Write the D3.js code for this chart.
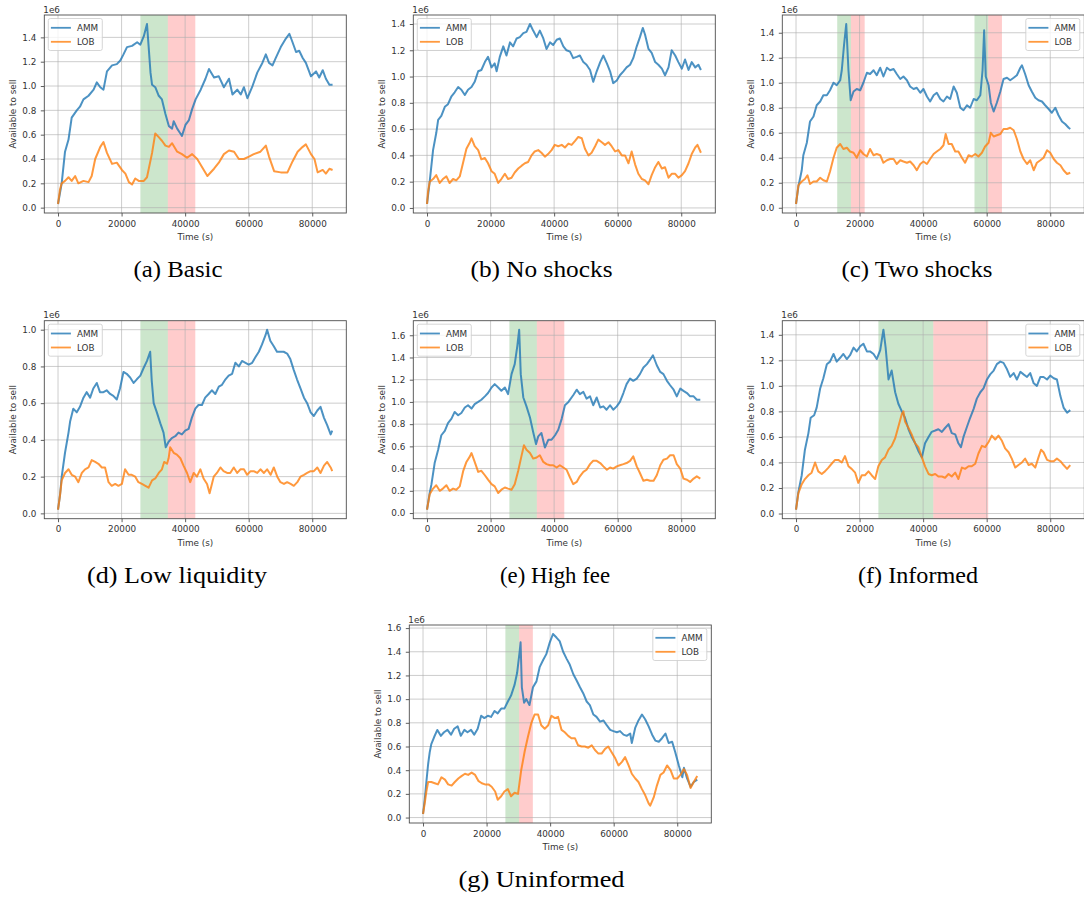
<!DOCTYPE html>
<html>
<head>
<meta charset="utf-8">
<script src="https://cdn.jsdelivr.net/npm/d3@7"></script>
<style>
  html, body { margin: 0; padding: 0; background: #fff; }
  svg { display: block; }
</style>
</head>
<body>
<svg id="fig" width="1084" height="899"></svg>
<script>
// ---- Data: [time (s), available to sell (x1e6)] ----
const basicAMM = [[0,0.03],[1150,0.20],[2200,0.46],[3300,0.56],[4300,0.74],[5900,0.80],[6900,0.83],[8000,0.89],[9600,0.92],[11200,0.97],[12200,1.03],[13300,0.99],[14300,0.97],[15400,1.12],[17000,1.17],[18500,1.18],[19600,1.21],[20600,1.26],[21700,1.32],[23300,1.33],[24900,1.36],[25900,1.34],[27000,1.41],[28000,1.51],[28500,1.33],[29100,1.11],[29600,1.01],[30600,0.99],[31700,0.92],[32700,0.89],[33800,0.77],[34900,0.67],[35900,0.65],[36400,0.71],[37500,0.65],[38500,0.61],[39000,0.59],[40100,0.68],[41200,0.72],[42200,0.81],[43300,0.89],[44900,0.97],[46400,1.06],[47500,1.14],[49100,1.07],[50600,1.08],[52200,0.99],[53800,1.06],[54900,0.93],[56400,0.97],[57500,0.93],[58500,0.99],[59600,0.90],[61200,1.00],[62700,1.11],[64300,1.19],[65400,1.26],[66400,1.19],[67500,1.17],[68500,1.23],[70100,1.32],[71700,1.39],[72800,1.43],[73800,1.36],[74900,1.28],[75900,1.29],[77000,1.23],[78000,1.19],[79600,1.08],[81200,1.12],[82200,1.07],[83300,1.13],[84300,1.06],[85400,1.01],[86400,1.01]];
const basicLOB = [[0,0.03],[630,0.15],[1150,0.20],[2200,0.22],[3300,0.25],[4300,0.22],[5400,0.26],[6400,0.20],[8000,0.22],[9600,0.21],[10600,0.26],[11700,0.40],[13300,0.50],[14300,0.54],[15400,0.45],[17000,0.36],[18500,0.37],[20100,0.31],[21200,0.28],[22300,0.21],[23300,0.19],[24300,0.24],[25400,0.22],[27000,0.22],[28000,0.25],[29600,0.45],[30600,0.61],[31700,0.58],[32700,0.55],[33800,0.51],[34900,0.50],[35900,0.53],[37500,0.46],[39000,0.44],[40600,0.41],[42200,0.44],[43800,0.40],[45400,0.33],[47000,0.26],[49100,0.32],[50600,0.37],[52200,0.44],[53800,0.47],[55400,0.46],[56900,0.40],[58500,0.40],[60100,0.42],[61600,0.44],[63700,0.46],[65400,0.51],[66400,0.42],[68000,0.30],[70100,0.29],[72200,0.29],[73800,0.38],[75400,0.46],[77000,0.50],[78000,0.52],[79600,0.44],[80700,0.40],[81700,0.29],[83300,0.31],[84300,0.28],[85400,0.32],[86400,0.31]];

const noShocksAMM = [[0,0.03],[840,0.20],[1900,0.44],[2900,0.57],[3500,0.67],[4500,0.70],[5600,0.77],[6600,0.79],[7700,0.85],[8700,0.88],[9800,0.92],[10800,0.90],[11900,0.86],[12900,0.90],[14000,0.92],[15000,0.96],[16100,1.04],[17100,1.05],[18200,1.11],[19200,1.15],[20300,1.07],[21300,1.10],[21900,1.04],[22900,1.15],[24000,1.23],[25000,1.16],[26100,1.26],[27100,1.23],[28200,1.29],[29200,1.30],[30300,1.33],[31300,1.34],[32400,1.40],[33400,1.35],[34500,1.30],[35500,1.35],[36600,1.29],[37600,1.21],[38700,1.26],[39700,1.24],[40800,1.28],[41800,1.29],[42900,1.23],[43900,1.20],[45000,1.19],[46000,1.14],[47100,1.15],[48100,1.16],[49200,1.11],[50200,1.09],[51300,1.05],[52300,0.96],[53400,1.04],[54500,1.11],[55500,1.16],[56600,1.10],[57600,1.04],[58600,0.95],[59700,0.97],[60700,1.01],[61800,1.04],[62800,1.07],[63900,1.09],[64900,1.14],[66000,1.23],[67000,1.30],[67900,1.37],[68600,1.32],[69700,1.21],[70700,1.18],[71800,1.11],[72800,1.09],[73900,1.06],[74900,1.01],[76000,1.07],[77000,1.20],[78100,1.16],[79100,1.11],[80200,1.06],[81200,1.13],[82300,1.05],[83300,1.11],[84400,1.07],[85400,1.09],[86200,1.05]];
const noShocksLOB = [[0,0.03],[300,0.12],[840,0.20],[1900,0.22],[2900,0.25],[4000,0.19],[5000,0.22],[6100,0.24],[7100,0.19],[8200,0.22],[9200,0.21],[10300,0.24],[11400,0.35],[12400,0.45],[13500,0.50],[14000,0.53],[15000,0.47],[16100,0.44],[17100,0.37],[18200,0.38],[19200,0.34],[20300,0.28],[21300,0.26],[22400,0.19],[23400,0.22],[24500,0.26],[25500,0.22],[26600,0.23],[27600,0.27],[28700,0.30],[29700,0.32],[30800,0.34],[31800,0.35],[32900,0.40],[33900,0.43],[35000,0.44],[36000,0.42],[37100,0.39],[38100,0.41],[39200,0.44],[40200,0.48],[41300,0.47],[42400,0.48],[43400,0.46],[44500,0.49],[45500,0.48],[46600,0.51],[47600,0.54],[48700,0.53],[49700,0.45],[50800,0.40],[51800,0.42],[52900,0.47],[53900,0.52],[55000,0.50],[56000,0.48],[57100,0.50],[58100,0.47],[59200,0.43],[60200,0.44],[61300,0.40],[62300,0.40],[63400,0.34],[64400,0.43],[65500,0.33],[66500,0.26],[67600,0.22],[68600,0.21],[69700,0.18],[70700,0.25],[71800,0.31],[72800,0.35],[73900,0.30],[74900,0.31],[76000,0.23],[77000,0.26],[78100,0.26],[79100,0.23],[80200,0.25],[81200,0.28],[82300,0.34],[83300,0.41],[84400,0.46],[85100,0.48],[86200,0.42]];

const twoShocksAMM = [[0,0.03],[740,0.17],[1800,0.30],[2300,0.42],[3400,0.52],[4400,0.69],[5500,0.73],[6500,0.82],[7600,0.85],[8600,0.90],[9700,0.90],[10700,0.94],[11800,1.00],[12800,0.98],[13900,1.02],[14400,1.10],[15100,1.30],[15800,1.47],[16500,1.10],[17200,0.86],[18100,0.93],[19100,0.95],[20200,0.94],[21200,1.00],[22300,1.08],[23300,1.07],[24400,1.10],[25400,1.06],[26500,1.12],[27500,1.05],[28600,1.12],[29600,1.10],[30700,1.11],[31700,1.07],[32800,1.03],[33800,1.05],[34900,1.02],[35900,0.97],[37000,0.95],[38000,0.96],[39100,0.92],[40100,0.95],[41200,0.89],[42200,0.85],[43300,0.90],[44300,0.92],[45400,0.87],[46400,0.85],[47500,0.89],[48500,0.87],[49600,0.97],[50600,0.92],[51700,0.80],[52700,0.78],[53800,0.82],[54800,0.80],[55900,0.87],[56900,0.86],[58000,0.90],[58700,1.10],[59200,1.42],[59700,1.05],[60600,0.98],[61300,0.84],[62200,0.77],[63200,0.84],[64300,0.93],[65300,1.03],[66400,1.04],[67400,1.02],[68500,1.04],[69500,1.06],[70600,1.12],[71100,1.14],[72100,1.07],[73200,0.98],[74200,0.93],[75300,0.88],[76300,0.86],[77400,0.85],[78400,0.82],[79500,0.79],[80500,0.76],[81600,0.80],[82600,0.74],[83700,0.69],[84700,0.67],[85800,0.64],[86300,0.63]];
const twoShocksLOB = [[0,0.03],[740,0.18],[1800,0.21],[2800,0.23],[3600,0.26],[4400,0.19],[5500,0.21],[6500,0.21],[7600,0.24],[8600,0.22],[9700,0.21],[10700,0.29],[11800,0.40],[12800,0.48],[13900,0.51],[14900,0.47],[16000,0.48],[17000,0.45],[18100,0.44],[19100,0.40],[20200,0.46],[21200,0.43],[22300,0.41],[23300,0.47],[24400,0.42],[25400,0.43],[26500,0.42],[27500,0.36],[28600,0.38],[29600,0.39],[30700,0.39],[31700,0.35],[32800,0.38],[33800,0.37],[34900,0.36],[35900,0.37],[37000,0.34],[38000,0.30],[39100,0.35],[40100,0.37],[41200,0.35],[42200,0.39],[43300,0.43],[44300,0.45],[45400,0.47],[46400,0.50],[47100,0.59],[48000,0.51],[49000,0.51],[50100,0.45],[51100,0.45],[52200,0.40],[53200,0.36],[54300,0.42],[55300,0.41],[56400,0.43],[57400,0.41],[58500,0.44],[59500,0.49],[60600,0.52],[61300,0.60],[62200,0.57],[63200,0.58],[64300,0.59],[65300,0.63],[66400,0.63],[67400,0.64],[68500,0.62],[69500,0.55],[70600,0.45],[71600,0.39],[72700,0.35],[73700,0.38],[74800,0.30],[75800,0.36],[76900,0.38],[77900,0.40],[79000,0.46],[80000,0.44],[81100,0.39],[82100,0.36],[83200,0.34],[84200,0.30],[85300,0.27],[86300,0.28]];

const lowLiqAMM = [[0,0.02],[630,0.10],[1160,0.20],[2200,0.33],[3300,0.44],[3800,0.50],[4800,0.57],[5900,0.55],[6900,0.58],[8000,0.63],[9000,0.66],[10100,0.63],[11100,0.68],[12200,0.71],[13200,0.66],[14300,0.66],[15300,0.67],[16400,0.65],[17400,0.64],[18500,0.62],[19500,0.68],[20600,0.77],[21600,0.76],[22700,0.74],[23800,0.71],[24800,0.73],[25900,0.75],[26900,0.79],[28000,0.83],[29000,0.88],[29500,0.72],[30100,0.60],[31100,0.55],[32200,0.49],[33200,0.44],[33900,0.36],[34800,0.39],[35800,0.41],[36900,0.42],[37900,0.44],[39000,0.43],[40000,0.45],[41100,0.46],[42100,0.52],[43200,0.57],[44200,0.59],[45300,0.59],[46300,0.63],[47400,0.65],[48400,0.67],[49500,0.65],[50600,0.69],[51600,0.70],[52700,0.73],[53700,0.75],[54800,0.76],[55800,0.82],[56900,0.80],[57900,0.83],[59000,0.82],[60000,0.81],[61100,0.82],[62100,0.85],[63200,0.88],[64200,0.92],[65300,0.97],[65800,1.00],[66800,0.94],[67900,0.91],[68900,0.88],[70000,0.88],[71000,0.88],[72100,0.87],[73100,0.84],[74200,0.78],[75200,0.73],[76300,0.68],[77400,0.63],[78400,0.60],[79500,0.55],[80500,0.53],[81600,0.56],[82600,0.58],[83700,0.52],[84700,0.48],[85800,0.43],[86300,0.45]];
const lowLiqLOB = [[0,0.02],[630,0.10],[1160,0.18],[2200,0.22],[3300,0.24],[4300,0.21],[5400,0.20],[6400,0.17],[7500,0.22],[8500,0.24],[9600,0.25],[10600,0.29],[11700,0.28],[12700,0.27],[13800,0.25],[14800,0.25],[15900,0.17],[16900,0.15],[18000,0.16],[19000,0.15],[20100,0.16],[21100,0.24],[22200,0.21],[23200,0.21],[24300,0.20],[25300,0.17],[26400,0.16],[27500,0.15],[28500,0.14],[29600,0.18],[30600,0.19],[31700,0.22],[32700,0.24],[33400,0.28],[34300,0.27],[34800,0.30],[35300,0.36],[36400,0.33],[37400,0.32],[38500,0.30],[39500,0.26],[40600,0.22],[41600,0.17],[42700,0.22],[43700,0.20],[44800,0.24],[45800,0.19],[46900,0.16],[47700,0.11],[49000,0.20],[50000,0.22],[51100,0.25],[52100,0.23],[53200,0.22],[54200,0.22],[55300,0.25],[56400,0.22],[57400,0.24],[58500,0.24],[59500,0.21],[60600,0.23],[61600,0.23],[62700,0.22],[63700,0.24],[64800,0.22],[65800,0.24],[66900,0.21],[67900,0.25],[69000,0.20],[70000,0.17],[71100,0.16],[72100,0.17],[73200,0.16],[74200,0.15],[75300,0.17],[76300,0.20],[77400,0.21],[78400,0.22],[79500,0.23],[80500,0.23],[81600,0.25],[82600,0.22],[83700,0.26],[84700,0.28],[85800,0.25],[86300,0.23]];

const highFeeAMM = [[0,0.03],[840,0.18],[1400,0.26],[2400,0.45],[3500,0.57],[4500,0.70],[5600,0.74],[6600,0.81],[7700,0.85],[8700,0.91],[9800,0.88],[10800,0.90],[11900,0.95],[12900,0.97],[14000,0.94],[15000,0.98],[16100,1.00],[17100,1.02],[18200,1.05],[19200,1.08],[20300,1.13],[21300,1.16],[22400,1.13],[23400,1.10],[24500,1.13],[25500,1.07],[26600,1.25],[27600,1.34],[28400,1.50],[29000,1.65],[29500,1.25],[30300,1.04],[31300,0.96],[32400,0.86],[33400,0.73],[34300,0.62],[35000,0.69],[36000,0.72],[37100,0.59],[38200,0.66],[39200,0.66],[40300,0.70],[41300,0.75],[42400,0.85],[43400,0.97],[44500,1.00],[46000,1.06],[47100,1.11],[48100,1.07],[49200,1.09],[50200,1.03],[51300,1.05],[52300,0.97],[53400,1.04],[54500,0.95],[55500,0.96],[56500,0.93],[57600,0.97],[58600,0.93],[59700,0.96],[60700,1.00],[61800,1.08],[62800,1.16],[63900,1.21],[64900,1.19],[66000,1.21],[67000,1.25],[68100,1.31],[69200,1.34],[70200,1.38],[71100,1.42],[72300,1.33],[73400,1.27],[74400,1.25],[75500,1.19],[76500,1.15],[77600,1.11],[78600,1.05],[79700,1.12],[80700,1.10],[81800,1.08],[82800,1.05],[83900,1.05],[84900,1.02],[86000,1.02]];
const highFeeLOB = [[0,0.03],[840,0.17],[1900,0.22],[2900,0.25],[4000,0.20],[5000,0.22],[6100,0.25],[7100,0.20],[8200,0.22],[9200,0.21],[10300,0.24],[11400,0.38],[12400,0.46],[13500,0.51],[14000,0.54],[15000,0.46],[16100,0.37],[17100,0.38],[18200,0.34],[19200,0.30],[20300,0.26],[21300,0.24],[22400,0.18],[23400,0.21],[24500,0.23],[25500,0.22],[26600,0.21],[27600,0.26],[28700,0.38],[29700,0.51],[30500,0.61],[31300,0.57],[32400,0.54],[33400,0.49],[34500,0.50],[35500,0.52],[36600,0.46],[37600,0.44],[38700,0.43],[39700,0.43],[40800,0.41],[41800,0.43],[42900,0.41],[43900,0.39],[45000,0.32],[46000,0.26],[47100,0.28],[48100,0.33],[49200,0.37],[50200,0.39],[51300,0.44],[52300,0.47],[53400,0.47],[54500,0.45],[55500,0.42],[56600,0.39],[57600,0.41],[58600,0.40],[59700,0.42],[60700,0.43],[61800,0.44],[62800,0.45],[63900,0.47],[64900,0.51],[66000,0.42],[67000,0.36],[68100,0.29],[69200,0.30],[70200,0.29],[71300,0.29],[72300,0.34],[73400,0.43],[74400,0.48],[75500,0.49],[76500,0.52],[77600,0.52],[78600,0.44],[79700,0.40],[80700,0.31],[81800,0.30],[82800,0.28],[83900,0.31],[84900,0.33],[86000,0.31]];

const informedAMM = [[0,0.03],[740,0.17],[1800,0.30],[2800,0.50],[3900,0.63],[4600,0.75],[5700,0.77],[6500,0.83],[7600,0.98],[8600,1.06],[9700,1.17],[10700,1.19],[11800,1.25],[12800,1.19],[13900,1.22],[14900,1.25],[16000,1.21],[17000,1.24],[18100,1.30],[19100,1.27],[20200,1.31],[21200,1.33],[22300,1.27],[23300,1.27],[24400,1.25],[25400,1.21],[26500,1.28],[27500,1.44],[28200,1.30],[29100,1.05],[30100,1.12],[31200,0.95],[32200,0.86],[33300,0.80],[34300,0.75],[35400,0.66],[36400,0.60],[37500,0.55],[38500,0.49],[39600,0.44],[40600,0.55],[41700,0.60],[42700,0.64],[43800,0.65],[44800,0.66],[45900,0.64],[46900,0.67],[48000,0.70],[49000,0.63],[50100,0.62],[51100,0.55],[51900,0.52],[52700,0.60],[53800,0.68],[54800,0.75],[55900,0.82],[56900,0.90],[58000,0.95],[59000,0.98],[60100,1.05],[61100,1.09],[62200,1.12],[63200,1.17],[64300,1.19],[65300,1.18],[66400,1.13],[67400,1.07],[68500,1.10],[69500,1.05],[70600,1.11],[71600,1.09],[72700,1.07],[73700,1.10],[74800,1.02],[75800,1.00],[76900,1.07],[77900,1.07],[79000,1.05],[80000,1.08],[81100,1.06],[82100,1.05],[83200,0.92],[84200,0.83],[85300,0.79],[86300,0.81]];
const informedLOB = [[0,0.03],[740,0.16],[1800,0.23],[2800,0.27],[3900,0.30],[4900,0.32],[6000,0.40],[7000,0.33],[8100,0.31],[9100,0.33],[10200,0.36],[11200,0.39],[12300,0.42],[13300,0.42],[14400,0.40],[15400,0.45],[16500,0.37],[17500,0.35],[18600,0.32],[19600,0.24],[20700,0.30],[21700,0.30],[22800,0.33],[23800,0.30],[24900,0.27],[25900,0.37],[27000,0.42],[28000,0.44],[29100,0.50],[30100,0.53],[31200,0.59],[32200,0.68],[33300,0.78],[33800,0.80],[34300,0.72],[35400,0.67],[36400,0.62],[37500,0.55],[38500,0.52],[39600,0.44],[40600,0.37],[41700,0.31],[42700,0.30],[43800,0.31],[44800,0.29],[45900,0.29],[46900,0.28],[48000,0.31],[49000,0.29],[50100,0.32],[51100,0.27],[52200,0.36],[53200,0.35],[54300,0.37],[55300,0.37],[56400,0.39],[57400,0.47],[58500,0.53],[59500,0.52],[60600,0.56],[61600,0.61],[62700,0.58],[63700,0.61],[64800,0.57],[65800,0.51],[66900,0.48],[67900,0.43],[69000,0.36],[70000,0.38],[71100,0.40],[72100,0.43],[73200,0.38],[74200,0.39],[75300,0.36],[76300,0.44],[77100,0.50],[77900,0.48],[79000,0.42],[80000,0.41],[81100,0.41],[82100,0.43],[83200,0.41],[84200,0.38],[85300,0.35],[86300,0.38]];

const uninformedAMM = [[0,0.03],[530,0.15],[1050,0.30],[1600,0.45],[2100,0.55],[2600,0.62],[3500,0.68],[4500,0.74],[5600,0.69],[6600,0.72],[7700,0.74],[8800,0.70],[9800,0.75],[10900,0.77],[11900,0.69],[13000,0.74],[14000,0.72],[15100,0.74],[16100,0.70],[17200,0.75],[18300,0.86],[19300,0.84],[20400,0.86],[21400,0.85],[22500,0.90],[23500,0.88],[24600,0.92],[25600,0.92],[26700,0.98],[27700,1.03],[28800,1.12],[29600,1.22],[30400,1.40],[30700,1.48],[31100,1.10],[31800,0.97],[32500,1.00],[33500,0.95],[34600,1.10],[35700,1.15],[36700,1.27],[37800,1.33],[38800,1.38],[39900,1.48],[40900,1.55],[42000,1.52],[43000,1.49],[44100,1.40],[45200,1.34],[46200,1.29],[47300,1.21],[48300,1.16],[49400,1.10],[50400,1.05],[51500,0.98],[52500,0.95],[53600,0.87],[54600,0.85],[55700,0.81],[56800,0.82],[57800,0.78],[58900,0.74],[59900,0.73],[61000,0.72],[62000,0.73],[63100,0.70],[64100,0.69],[65200,0.71],[65700,0.63],[66800,0.76],[67800,0.82],[68900,0.87],[69900,0.83],[71000,0.77],[72100,0.70],[73100,0.65],[74200,0.64],[75200,0.67],[76300,0.71],[77300,0.63],[78400,0.64],[79400,0.55],[80500,0.44],[81600,0.34],[82100,0.42],[83100,0.33],[84200,0.26],[85200,0.30],[86300,0.32]];
const uninformedLOB = [[0,0.03],[530,0.12],[1050,0.22],[1600,0.30],[2600,0.30],[3700,0.29],[4700,0.28],[5800,0.34],[6900,0.32],[7900,0.28],[9000,0.27],[10000,0.30],[11100,0.33],[12100,0.35],[13200,0.37],[14200,0.36],[15300,0.38],[16400,0.36],[17400,0.31],[18500,0.29],[19500,0.28],[20600,0.28],[21600,0.26],[22700,0.22],[23500,0.15],[24600,0.18],[25600,0.22],[26700,0.24],[27700,0.18],[28800,0.21],[29900,0.20],[30900,0.40],[32000,0.56],[33000,0.68],[34100,0.80],[35100,0.87],[36200,0.87],[37200,0.78],[38300,0.75],[39400,0.78],[40400,0.86],[41500,0.84],[42500,0.85],[43600,0.74],[44600,0.72],[45700,0.69],[46700,0.67],[47800,0.67],[48800,0.61],[49900,0.60],[50900,0.60],[52000,0.59],[53100,0.61],[54100,0.57],[55200,0.54],[56200,0.54],[57300,0.58],[58300,0.60],[59400,0.55],[60500,0.50],[61500,0.44],[62600,0.47],[63600,0.51],[64700,0.44],[65700,0.37],[66800,0.33],[67800,0.30],[68900,0.24],[69900,0.19],[71000,0.12],[71500,0.10],[72600,0.17],[73600,0.27],[74700,0.36],[75700,0.38],[76800,0.44],[77900,0.40],[78900,0.33],[80000,0.33],[81000,0.36],[82100,0.41],[83100,0.36],[84200,0.25],[85200,0.30],[86300,0.35]];

// Shock windows: [start, switch, end] in seconds (green span, then red span)
const basicShocks = [[25920, 34560, 43200]];
const noShocks = [];
const twoShocks = [[12960, 17280, 21600], [56160, 60480, 64800]];
const lowLiqShocks = [[25920, 34560, 43200]];
const highFeeShocks = [[25920, 34560, 43200]];
const informedShocks = [[25920, 43200, 60480]];
const uninformedShocks = [[25920, 30240, 34560]];

const captions = ["(a) Basic", "(b) No shocks", "(c) Two shocks", "(d) Low liquidity", "(e) High fee", "(f) Informed", "(g) Uninformed"];
const seriesNames = ["AMM", "LOB"];
const xTickValues = [0, 20000, 40000, 60000, 80000];
const xLabel = "Time (s)";
const yLabel = "Available to sell";
const offsetLabel = "1e6";

// ---- Layout ----
const W = 302, H = 198;
const panels = [
  { amm: basicAMM,      lob: basicLOB,      shocks: basicShocks,      x: 44.3,  y: 15,    legend: "left",  cx: 178,   cy: 277, cw: 89 },
  { amm: noShocksAMM,   lob: noShocksLOB,   shocks: noShocks,         x: 413.3, y: 15,    legend: "left",  cx: 541.5, cy: 277, cw: 142 },
  { amm: twoShocksAMM,  lob: twoShocksLOB,  shocks: twoShocks,        x: 782.3, y: 15,    legend: "right", cx: 917,   cy: 277, cw: 151 },
  { amm: lowLiqAMM,     lob: lowLiqLOB,     shocks: lowLiqShocks,     x: 44.3,  y: 320.7, legend: "left",  cx: 177,   cy: 583, cw: 180 },
  { amm: highFeeAMM,    lob: highFeeLOB,    shocks: highFeeShocks,    x: 413.3, y: 320.7, legend: "left",  cx: 555,   cy: 583, cw: 110 },
  { amm: informedAMM,   lob: informedLOB,   shocks: informedShocks,   x: 782.3, y: 320.7, legend: "right", cx: 918,   cy: 583, cw: 120 },
  { amm: uninformedAMM, lob: uninformedLOB, shocks: uninformedShocks, x: 409.3, y: 625,   legend: "right", cx: 541.5, cy: 887, cw: 166 }
];

const colors = ["#1f77b4", "#ff7f0e"];
const sans = "'DejaVu Sans', sans-serif";
const fs = 8.8;
const svg = d3.select("#fig");
const fmtY = d3.format(".1f");

panels.forEach((p, i) => {
  const g = svg.append("g").attr("transform", `translate(${p.x},${p.y})`);
  const xs = d3.scaleLinear().domain([-4320, 90720]).range([0, W]);
  const vals = p.amm.concat(p.lob).map(d => d[1]);
  const lo = d3.min(vals), hi = d3.max(vals), pad = (hi - lo) * 0.05;
  const ys = d3.scaleLinear().domain([lo - pad, hi + pad]).range([H, 0]);
  const yTickValues = d3.range(0, hi + pad, 0.2).map(v => Math.round(v * 10) / 10).filter(v => v <= hi + pad);

  // shock spans
  p.shocks.forEach(([a, b, c]) => {
    g.append("rect").attr("x", xs(a)).attr("y", 0).attr("width", xs(b) - xs(a)).attr("height", H)
      .attr("fill", "#008000").attr("fill-opacity", 0.2);
    g.append("rect").attr("x", xs(b)).attr("y", 0).attr("width", xs(c) - xs(b)).attr("height", H)
      .attr("fill", "#ff0000").attr("fill-opacity", 0.2);
  });

  // grid
  g.append("g").selectAll("line").data(xTickValues).join("line")
    .attr("x1", d => xs(d)).attr("x2", d => xs(d)).attr("y1", 0).attr("y2", H)
    .attr("stroke", "#b0b0b0").attr("stroke-opacity", 0.7).attr("stroke-width", 0.9);
  g.append("g").selectAll("line").data(yTickValues).join("line")
    .attr("y1", d => ys(d)).attr("y2", d => ys(d)).attr("x1", 0).attr("x2", W)
    .attr("stroke", "#b0b0b0").attr("stroke-opacity", 0.7).attr("stroke-width", 0.9);

  // series
  const line = d3.line().x(d => xs(d[0])).y(d => ys(d[1]));
  [p.amm, p.lob].forEach((s, k) => {
    g.append("path").datum(s).attr("d", line).attr("fill", "none")
      .attr("stroke", colors[k]).attr("stroke-opacity", 0.8)
      .attr("stroke-width", 2).attr("stroke-linejoin", "round");
  });

  // frame
  g.append("rect").attr("x", 0).attr("y", 0).attr("width", W).attr("height", H)
    .attr("fill", "none").attr("stroke", "#4d4d4d").attr("stroke-width", 0.9);

  // axes
  const xAxis = g.append("g").attr("transform", `translate(0,${H})`)
    .call(d3.axisBottom(xs).tickValues(xTickValues).tickFormat(d3.format("d")).tickSize(3.5).tickSizeOuter(0).tickPadding(3.8));
  const yAxis = g.append("g")
    .call(d3.axisLeft(ys).tickValues(yTickValues).tickFormat(fmtY).tickSize(3.5).tickSizeOuter(0).tickPadding(4.5));
  [xAxis, yAxis].forEach(a => {
    a.select(".domain").remove();
    a.selectAll(".tick line").attr("stroke", "#4d4d4d").attr("stroke-width", 0.9);
    a.selectAll(".tick text").attr("fill", "#333").style("font-family", sans).style("font-size", fs + "px");
  });

  // axis labels
  g.append("text").attr("x", W / 2).attr("y", H + 27).attr("text-anchor", "middle")
    .attr("fill", "#333").style("font-family", sans).style("font-size", fs + "px").text(xLabel);
  g.append("text").attr("transform", `translate(-28,${H / 2}) rotate(-90)`).attr("text-anchor", "middle")
    .attr("fill", "#333").style("font-family", sans).style("font-size", fs + "px").text(yLabel);
  g.append("text").attr("x", -1).attr("y", -2.5)
    .attr("fill", "#333").style("font-family", sans).style("font-size", fs + "px").text(offsetLabel);

  // legend
  const lw = 54, lh = 32;
  const lx = p.legend === "left" ? 4 : W - 4.5 - lw;
  const lg = g.append("g").attr("transform", `translate(${lx},3.5)`);
  lg.append("rect").attr("width", lw).attr("height", lh).attr("rx", 2)
    .attr("fill", "#fff").attr("fill-opacity", 0.8).attr("stroke", "#cccccc").attr("stroke-width", 0.8);
  seriesNames.forEach((name, k) => {
    const yy = 9.3 + k * 14;
    lg.append("line").attr("x1", 2.6).attr("x2", 22.6).attr("y1", yy).attr("y2", yy)
      .attr("stroke", colors[k]).attr("stroke-opacity", 0.8).attr("stroke-width", 1.8);
    lg.append("text").attr("x", 28.7).attr("y", yy).attr("dy", "0.35em")
      .attr("fill", "#333").style("font-family", sans).style("font-size", fs + "px").text(name);
  });

  // caption
  svg.append("text").attr("x", p.cx).attr("y", p.cy).attr("text-anchor", "middle")
    .attr("textLength", p.cw).attr("lengthAdjust", "spacingAndGlyphs")
    .attr("fill", "#000").style("font-family", "'Liberation Serif', serif").style("font-size", "22.5px")
    .text(captions[i]);
});
</script>
</body>
</html>
